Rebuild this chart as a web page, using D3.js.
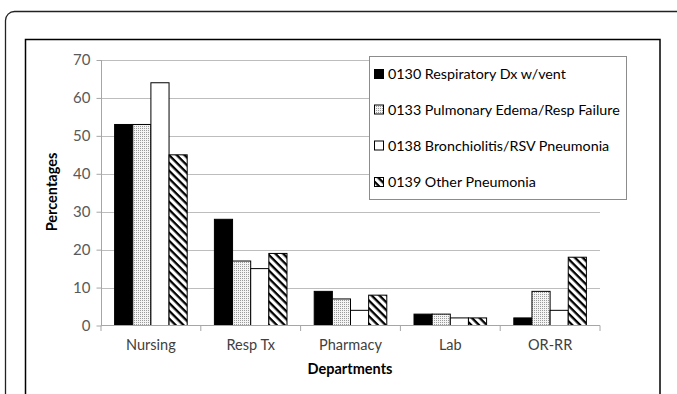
<!DOCTYPE html>
<html><head><meta charset="utf-8">
<script src="https://cdn.jsdelivr.net/npm/d3@7"></script>
<style>body{margin:0;background:#fff;} svg{display:block;font-family:Lato, "Open Sans", sans-serif;}</style>
</head><body>
<svg id="c" width="677" height="394"></svg>
<script>
const categories = ["Nursing","Resp Tx","Pharmacy","Lab","OR-RR"];
const seriesNames = ["0130 Respiratory Dx w/vent","0133 Pulmonary Edema/Resp Failure","0138 Bronchiolitis/RSV Pneumonia","0139 Other Pneumonia"];
const s0130 = [53,28,9,3,2];
const s0133 = [53,17,7,3,9];
const s0138 = [64,15,4,2,4];
const s0139 = [45,19,8,2,18];
const yTicks = [0,10,20,30,40,50,60,70];
const seriesValues = [s0130,s0133,s0138,s0139];

const svg = d3.select("#c");
const defs = svg.append("defs");
const dots = defs.append("pattern").attr("id","dots").attr("patternUnits","userSpaceOnUse").attr("width",2).attr("height",2);
dots.append("rect").attr("width",2).attr("height",2).attr("fill","#f4f4f4");
dots.append("rect").attr("width",1).attr("height",1).attr("fill","#9a9a9a");
const hatch = defs.append("pattern").attr("id","hatch").attr("patternUnits","userSpaceOnUse").attr("width",5.5).attr("height",5.5).attr("patternTransform","rotate(45)");
hatch.append("rect").attr("width",5.5).attr("height",5.5).attr("fill","#fff");
hatch.append("rect").attr("width",5.5).attr("height",2.3).attr("fill","#000");
const fills = ["#000","url(#dots)","#fff","url(#hatch)"];

// frames
svg.append("rect").attr("x",5.5).attr("y",11.5).attr("width",690).attr("height",420).attr("rx",9)
  .attr("fill","none").attr("stroke","#222").attr("stroke-width",1.3);
svg.append("rect").attr("x",25.5).attr("y",39.5).attr("width",634.5).attr("height",400)
  .attr("fill","none").attr("stroke","#000").attr("stroke-width",1.5);

const x0 = d3.scaleBand().domain(categories).range([101,600]).paddingInner(0).paddingOuter(0);
const x1 = d3.scaleBand().domain(d3.range(4)).range([0,x0.bandwidth()]).paddingOuter(0.75).paddingInner(0);
const y = d3.scaleLinear().domain([0,70]).range([325.5,60]);

// gridlines
svg.append("g").selectAll("line").data(yTicks.filter(d=>d>0)).join("line")
  .attr("x1",101).attr("x2",600).attr("y1",d=>Math.round(y(d))+0.5).attr("y2",d=>Math.round(y(d))+0.5)
  .attr("stroke","#bdbdbd").attr("stroke-width",1);

// y axis
const yAxis = svg.append("g").attr("transform","translate(101.5,0)")
  .call(d3.axisLeft(y).tickValues(yTicks).tickSize(5).tickPadding(6));
yAxis.select(".domain").attr("stroke","#a6a6a6").attr("d","M0,60V325.5");
yAxis.selectAll(".tick line").attr("stroke","#a6a6a6");
yAxis.selectAll(".tick text").attr("fill","#595959").attr("font-size",15).attr("font-family","Lato, sans-serif");

// bars
const g = svg.append("g");
categories.forEach((c,ci)=>{
  seriesValues.forEach((vals,si)=>{
    g.append("rect")
      .attr("x",x0(c)+x1(si)).attr("width",x1.bandwidth())
      .attr("y",y(vals[ci])).attr("height",y(0)-y(vals[ci]))
      .attr("fill",fills[si]).attr("stroke","#000").attr("stroke-width",1);
  });
});

// x axis
const xAxis = svg.append("g").attr("transform","translate(0,325.5)")
  .call(d3.axisBottom(x0).tickSize(0).tickPadding(14));
xAxis.select(".domain").attr("stroke","#a6a6a6").attr("d","M101,0H600");
xAxis.selectAll(".tick text").attr("fill","#404040").attr("font-size",14.5).attr("font-family","Lato, sans-serif");
svg.append("g").selectAll("line").data(d3.range(6)).join("line")
  .attr("x1",d=>101+d*x0.bandwidth()).attr("x2",d=>101+d*x0.bandwidth())
  .attr("y1",325.5).attr("y2",331).attr("stroke","#a6a6a6");

// axis titles
svg.append("text").attr("x",350).attr("y",374).attr("text-anchor","middle")
  .attr("font-weight","bold").attr("font-size",14.5).attr("fill","#000").text("Departments");
svg.append("text").attr("transform","translate(57,192) rotate(-90)").attr("text-anchor","middle")
  .attr("font-weight","bold").attr("font-size",14.5).attr("fill","#000").text("Percentages");

// legend
const lg = svg.append("g");
lg.append("rect").attr("x",369.5).attr("y",56.5).attr("width",257).attr("height",143)
  .attr("fill","#fff").attr("stroke","#8c8c8c");
const ly = [74,109.5,145.5,182];
seriesNames.forEach((n,i)=>{
  lg.append("rect").attr("x",374.5).attr("y",ly[i]-4.5).attr("width",9).attr("height",9)
    .attr("fill",fills[i]).attr("stroke","#000").attr("stroke-width",1);
  lg.append("text").attr("x",388).attr("y",ly[i]).attr("dy","0.35em")
    .attr("font-size",14.3).attr("fill","#000").text(n);
});
</script>
</body></html>
